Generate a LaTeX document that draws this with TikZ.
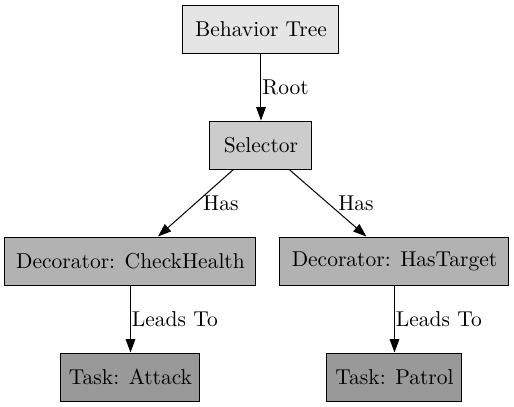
\documentclass[tikz,border=0pt]{standalone}
\usetikzlibrary{arrows.meta}
\begin{document}
\begin{tikzpicture}[x=0.465pt,y=-0.465pt,
  box/.style={draw=black,line width=0.465pt,rectangle,inner sep=0pt,minimum height=48*0.465pt,font=\fontsize{10}{12}\selectfont},
  conn/.style={draw=black,line width=0.465pt,-{Triangle[length=13.3*0.465pt,width=9.5*0.465pt]}},
  lbl/.style={anchor=west,inner sep=0.465pt,font=\fontsize{10}{12}\selectfont}]
\path[use as bounding box] (0,0) rectangle (514,407);
\node[box,fill=black!10,minimum width=156*0.465pt] (bt) at (261,29) {Behavior Tree};
\node[box,fill=black!20,minimum width=102*0.465pt] (sel) at (261,145) {Selector};
\node[box,fill=black!30,minimum width=251*0.465pt] (d1) at (130.5,261) {Decorator: CheckHealth};
\node[box,fill=black!30,minimum width=229*0.465pt] (d2) at (394.5,261) {Decorator: HasTarget};
\node[box,fill=black!40,minimum width=139*0.465pt] (t1) at (130.5,377) {Task: Attack};
\node[box,fill=black!40,minimum width=135*0.465pt] (t2) at (394.5,377) {Task: Patrol};
\draw[conn] (bt) -- node[lbl,pos=0.5]{Root} (sel);
\draw[conn] (sel) -- node[lbl,pos=0.5,xshift=6*0.465pt]{Has} (d1);
\draw[conn] (sel) -- node[lbl,pos=0.5,xshift=9*0.465pt]{Has} (d2);
\draw[conn] (d1) -- node[lbl,pos=0.5]{Leads To} (t1);
\draw[conn] (d2) -- node[lbl,pos=0.5]{Leads To} (t2);
\end{tikzpicture}
\end{document}
